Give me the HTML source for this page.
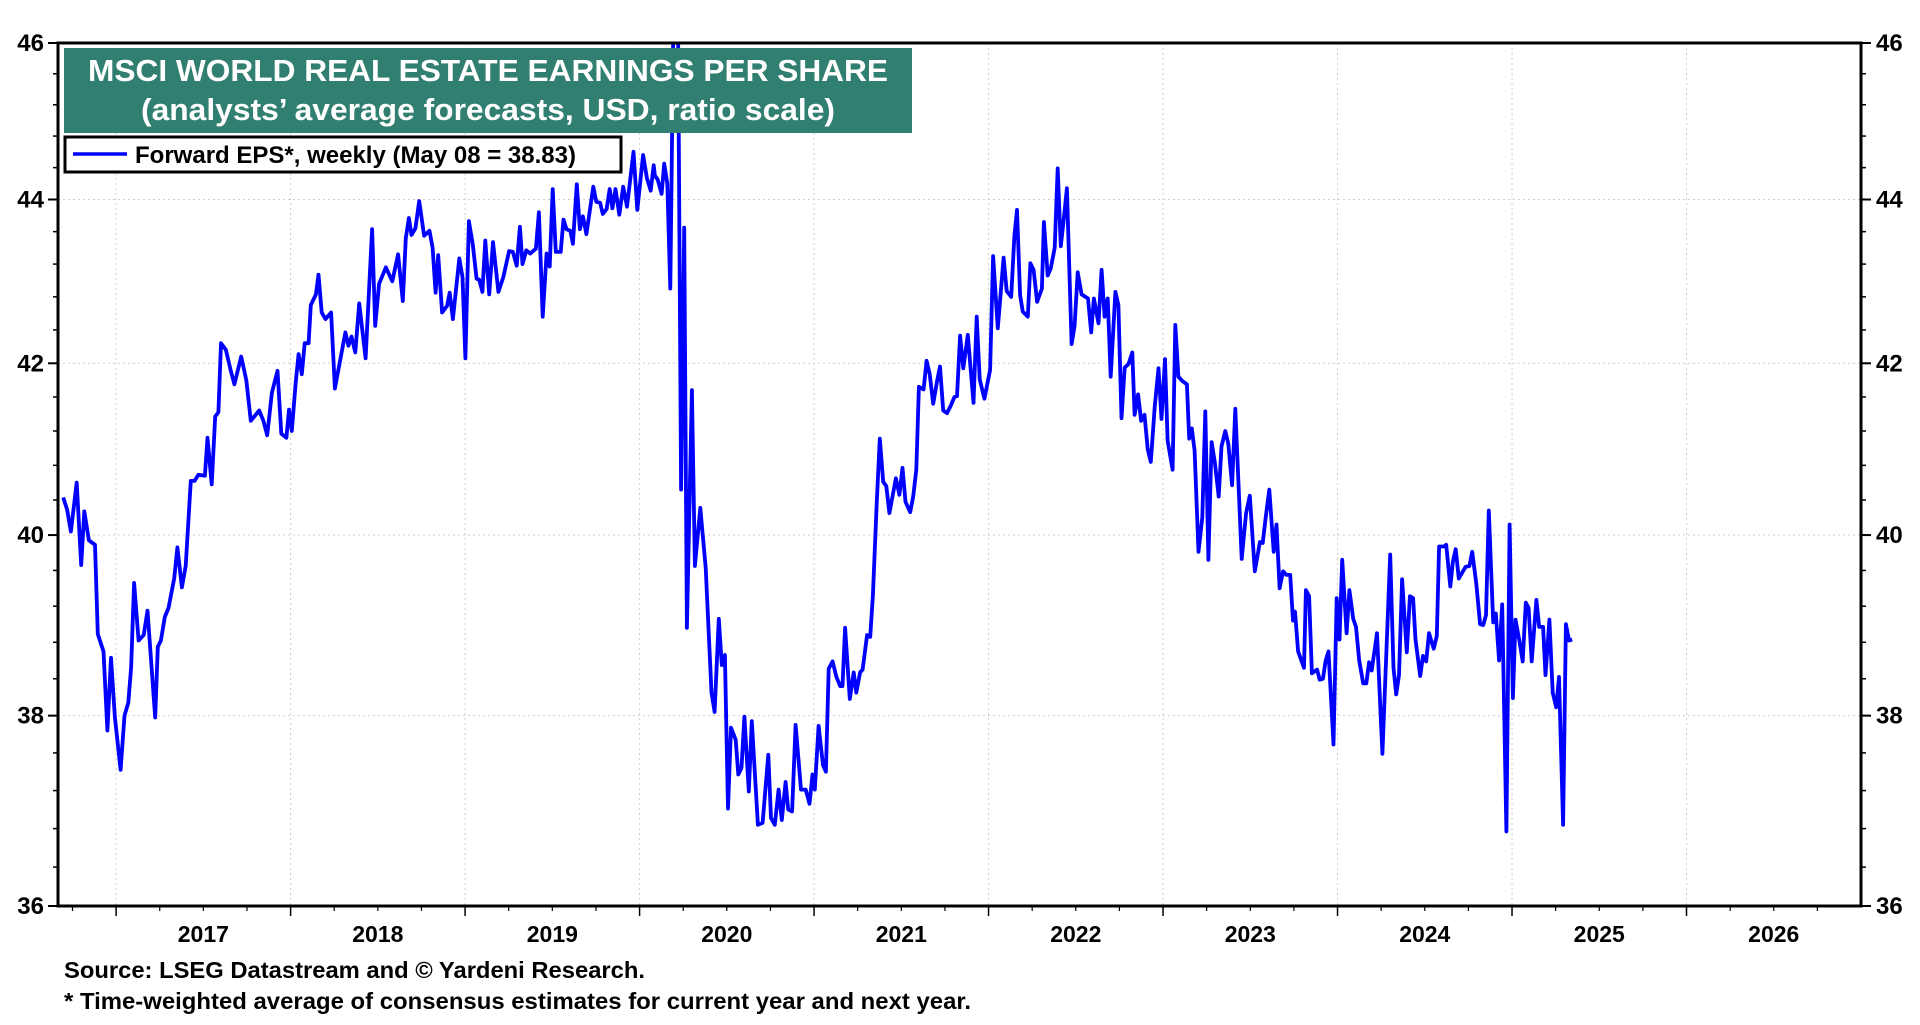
<!DOCTYPE html>
<html><head><meta charset="utf-8"><style>
html,body{margin:0;padding:0;background:#fff;}
body{width:1920px;height:1020px;overflow:hidden;font-family:"Liberation Sans",Arial,sans-serif;}
svg text{font-family:"Liberation Sans",Arial,sans-serif;font-weight:bold;}
</style></head><body>
<svg id="chart" width="1920" height="1020" viewBox="0 0 1920 1020" xmlns="http://www.w3.org/2000/svg">
<g id="grid"></g>
<g id="series"></g>
<g id="axes"></g>
<g>
<rect x="64" y="48" width="848" height="85" fill="#317f71"/>
<text x="488" y="81" text-anchor="middle" fill="#fff" font-size="31" textLength="800" lengthAdjust="spacingAndGlyphs">MSCI WORLD REAL ESTATE EARNINGS PER SHARE</text>
<text x="488" y="120" text-anchor="middle" fill="#fff" font-size="31" textLength="694" lengthAdjust="spacingAndGlyphs">(analysts’ average forecasts, USD, ratio scale)</text>
</g>
<g>
<rect x="65" y="137" width="556" height="35" fill="#fff" stroke="#000" stroke-width="3"/>
<line x1="73" y1="154" x2="127" y2="154" stroke="#0000ff" stroke-width="3.5"/>
<text x="135" y="163" font-size="24" fill="#000" textLength="441" lengthAdjust="spacingAndGlyphs">Forward EPS*, weekly (May 08 = 38.83)</text>
</g>
<text x="64" y="978" font-size="23.5" fill="#000" textLength="581" lengthAdjust="spacingAndGlyphs">Source: LSEG Datastream and © Yardeni Research.</text>
<text x="64" y="1009" font-size="23.5" fill="#000" textLength="907" lengthAdjust="spacingAndGlyphs">* Time-weighted average of consensus estimates for current year and next year.</text>
</svg>
<script>
const yTicks=[36,38,40,42,44,46];
const years=[2017,2018,2019,2020,2021,2022,2023,2024,2025,2026];
const dates=[2016.697,2016.719,2016.741,2016.774,2016.800,2016.818,2016.844,2016.879,2016.895,2016.928,2016.950,2016.971,2016.993,
2017.026,2017.048,2017.070,2017.086,2017.103,2017.129,2017.158,2017.180,2017.224,2017.239,2017.257,2017.279,2017.300,2017.333,2017.351,2017.377,2017.399,2017.428,2017.450,2017.471,2017.509,2017.524,2017.548,2017.568,2017.586,2017.601,2017.629,2017.656,2017.678,2017.717,2017.746,2017.772,2017.820,2017.844,2017.866,2017.893,2017.925,2017.947,2017.976,2017.991,
2018.007,2018.029,2018.046,2018.064,2018.081,2018.103,2018.116,2018.145,2018.160,2018.178,2018.200,2018.232,2018.254,2018.276,2018.314,2018.331,2018.349,2018.371,2018.393,2018.430,2018.467,2018.485,2018.507,2018.546,2018.583,2018.616,2018.643,2018.660,2018.678,2018.693,2018.715,2018.737,2018.765,2018.796,2018.814,2018.831,2018.846,2018.868,2018.897,2018.912,2018.930,2018.967,2018.985,
2019.002,2019.022,2019.044,2019.066,2019.081,2019.099,2019.116,2019.138,2019.160,2019.191,2019.219,2019.252,2019.274,2019.296,2019.314,2019.329,2019.351,2019.373,2019.406,2019.423,2019.445,2019.467,2019.485,2019.502,2019.520,2019.548,2019.564,2019.581,2019.603,2019.618,2019.640,2019.658,2019.675,2019.695,2019.735,2019.752,2019.774,2019.789,2019.811,2019.829,2019.844,2019.862,2019.884,2019.906,2019.928,2019.965,2019.987,
2020.020,2020.042,2020.064,2020.081,
2020.088,2020.104,2020.126,2020.141,2020.159,2020.176,2020.194,2020.220,2020.238,2020.256,2020.271,2020.300,2020.317,2020.348,2020.379,2020.412,2020.430,2020.454,2020.471,2020.489,2020.507,2020.524,2020.551,2020.566,2020.584,2020.601,2020.626,2020.643,2020.678,2020.705,2020.738,2020.753,2020.775,2020.797,2020.815,2020.837,2020.852,2020.874,2020.894,2020.925,2020.952,2020.974,2020.991,
2021.004,2021.026,2021.051,2021.068,2021.084,2021.106,2021.128,2021.150,2021.163,2021.178,2021.205,2021.227,2021.242,2021.264,2021.278,2021.304,2021.322,2021.337,2021.359,2021.377,2021.396,2021.414,2021.432,2021.469,2021.489,2021.507,2021.524,2021.551,2021.568,2021.586,2021.601,2021.628,2021.645,2021.663,2021.683,2021.705,2021.722,2021.740,2021.762,2021.784,2021.804,2021.819,2021.837,2021.855,2021.881,2021.914,2021.932,2021.949,2021.976,
2022.009,2022.026,2022.053,2022.086,2022.104,2022.130,2022.148,2022.163,2022.181,2022.196,2022.225,2022.240,2022.258,2022.278,2022.306,2022.317,2022.339,2022.357,2022.379,2022.396,2022.414,2022.432,2022.449,2022.476,2022.493,2022.511,2022.533,2022.570,2022.588,2022.604,2022.630,2022.648,2022.665,2022.683,2022.700,2022.727,2022.744,2022.762,2022.780,2022.802,2022.824,2022.837,2022.857,2022.874,2022.894,2022.912,2022.930,2022.952,2022.974,2022.991,
2023.011,2023.026,2023.055,2023.070,2023.088,2023.110,2023.137,2023.150,2023.165,2023.181,2023.203,2023.225,2023.242,2023.260,2023.278,2023.297,2023.319,2023.335,2023.357,2023.374,2023.396,2023.414,
2023.451,2023.476,2023.497,2023.526,2023.555,2023.571,2023.589,2023.609,2023.634,2023.650,2023.668,2023.688,2023.707,2023.729,2023.745,2023.756,2023.774,2023.808,2023.819,2023.837,2023.853,2023.883,2023.898,2023.916,2023.932,2023.948,2023.977,2023.995,
2024.011,2024.027,2024.052,2024.068,2024.090,2024.106,2024.124,2024.147,2024.165,2024.181,2024.196,2024.226,2024.257,2024.302,2024.321,2024.336,2024.352,2024.370,2024.397,2024.415,2024.433,2024.447,2024.474,2024.490,2024.508,2024.524,2024.551,2024.569,2024.582,2024.609,2024.623,2024.646,2024.661,2024.677,2024.695,2024.713,2024.734,2024.756,2024.772,2024.795,2024.817,2024.835,2024.851,2024.867,2024.892,2024.907,2024.926,2024.944,2024.968,2024.986,
2025.005,2025.020,2025.043,2025.061,2025.079,2025.095,2025.113,2025.140,2025.156,2025.178,2025.192,2025.214,2025.233,2025.253,2025.269,2025.293,2025.309,2025.327,2025.345];
const eps=[40.43,40.29,40.04,40.6,39.66,40.27,39.94,39.89,38.89,38.70,37.84,38.63,37.98,
37.42,38.0,38.14,38.52,39.46,38.82,38.88,39.15,37.98,38.75,38.82,39.08,39.18,39.51,39.86,39.41,39.65,40.62,40.62,40.69,40.68,41.12,40.58,41.37,41.42,42.24,42.16,41.92,41.75,42.08,41.80,41.32,41.44,41.32,41.15,41.65,41.91,41.17,41.12,41.45,
41.20,41.77,42.11,41.87,42.24,42.24,42.70,42.83,43.07,42.61,42.53,42.61,41.70,41.95,42.37,42.21,42.32,42.13,42.72,42.06,43.63,42.45,42.96,43.16,42.99,43.32,42.75,43.52,43.77,43.56,43.64,43.98,43.55,43.61,43.40,42.85,43.31,42.61,42.69,42.85,42.53,43.27,43.04,
42.06,43.73,43.44,43.02,43.01,42.86,43.49,42.83,43.47,42.86,43.04,43.36,43.35,43.18,43.66,43.20,43.37,43.33,43.39,43.84,42.56,43.33,43.17,44.13,43.35,43.35,43.75,43.63,43.61,43.45,44.19,43.63,43.79,43.57,44.16,43.97,43.96,43.82,43.88,44.13,43.89,44.13,43.81,44.16,43.91,44.60,43.87,
44.56,44.27,44.11,44.43,
44.30,44.25,44.07,44.45,44.20,42.90,46.3,46.3,40.52,43.65,38.96,41.68,39.65,40.31,39.63,38.25,38.04,39.06,38.55,38.66,37.01,37.87,37.74,37.37,37.44,37.99,37.19,37.94,36.84,36.86,37.58,36.91,36.84,37.21,36.89,37.29,37.00,36.98,37.90,37.21,37.21,37.06,37.37,
37.21,37.89,37.47,37.40,38.51,38.59,38.42,38.32,38.32,38.96,38.18,38.47,38.25,38.47,38.50,38.88,38.86,39.32,40.36,41.11,40.61,40.56,40.25,40.65,40.46,40.77,40.38,40.26,40.44,40.75,41.72,41.69,42.03,41.87,41.52,41.79,41.96,41.44,41.41,41.50,41.60,41.61,42.33,41.94,42.34,41.53,42.56,41.81,41.58,
41.92,43.30,42.42,43.28,42.87,42.80,43.55,43.87,42.82,42.62,42.56,43.21,43.13,42.74,42.90,43.72,43.06,43.15,43.40,44.39,43.42,43.77,44.14,42.23,42.45,43.10,42.83,42.78,42.37,42.78,42.48,43.13,42.56,42.78,41.84,42.86,42.70,41.35,41.95,41.99,42.13,41.39,41.63,41.32,41.39,40.99,40.84,41.48,41.94,41.34,
42.05,41.09,40.75,42.46,41.84,41.79,41.75,41.11,41.23,40.97,39.81,40.20,41.43,39.72,41.07,40.83,40.44,41.02,41.20,41.05,40.57,41.46,
39.73,40.25,40.45,39.59,39.92,39.91,40.21,40.52,39.81,40.12,39.40,39.59,39.55,39.55,39.04,39.14,38.70,38.52,39.38,39.31,38.46,38.50,38.39,38.40,38.60,38.70,37.69,39.29,
38.83,39.72,38.90,39.38,39.06,38.97,38.60,38.35,38.35,38.58,38.49,38.90,37.59,39.78,38.52,38.23,38.44,39.50,38.69,39.31,39.29,38.83,38.43,38.65,38.59,38.90,38.73,38.87,39.87,39.87,39.89,39.42,39.70,39.84,39.51,39.57,39.64,39.65,39.81,39.45,39.00,38.99,39.10,40.28,39.02,39.12,38.60,39.22,36.77,40.12,
38.19,39.05,38.81,38.59,39.24,39.18,38.59,39.27,38.97,38.97,38.44,39.05,38.25,38.09,38.42,36.84,39.00,38.82,38.83];

const L=58,R=1861,T=43,B=906;
const X0=2016.667,X1=2027;
const Y0=36,Y1=46;
const NS='http://www.w3.org/2000/svg';
function xs(d){return L+(d-X0)/(X1-X0)*(R-L);}
function ys(v){return B-(Math.log(v)-Math.log(Y0))/(Math.log(Y1)-Math.log(Y0))*(B-T);}
function mk(tag,attrs,parent){const e=document.createElementNS(NS,tag);for(const k in attrs)e.setAttribute(k,attrs[k]);parent.appendChild(e);return e;}
const grid=document.getElementById('grid'),axes=document.getElementById('axes'),series=document.getElementById('series');
const defs=mk('defs',{},document.getElementById('chart'));
const cp=mk('clipPath',{id:'plotclip'},defs);
mk('rect',{x:L,y:T,width:R-L,height:B-T},cp);
yTicks.forEach(v=>{
  const y=ys(v);
  if(v>Y0&&v<Y1){
    const g=mk('line',{x1:L,x2:R,y1:y,y2:y,stroke:'#cfcfcf','stroke-width':1,'stroke-dasharray':'2,3'},grid);
    
    
  }
  const t1=mk('text',{x:44,y:y+8,'text-anchor':'end','font-size':24,fill:'#000'},axes);
  t1.textContent=v;
  
  
  const t2=mk('text',{x:1876,y:y+8,'text-anchor':'start','font-size':24,fill:'#000'},axes);
  t2.textContent=v;
  
  
  mk('line',{x1:L-10,x2:L,y1:y,y2:y,stroke:'#000','stroke-width':2},axes);
  mk('line',{x1:R,x2:R+10,y1:y,y2:y,stroke:'#000','stroke-width':2},axes);
});
for(let v=36.4;v<46;v+=0.4){
  const y=ys(v);
  mk('line',{x1:L-5,x2:L,y1:y,y2:y,stroke:'#000','stroke-width':1.5},axes);
  mk('line',{x1:R,x2:R+5,y1:y,y2:y,stroke:'#000','stroke-width':1.5},axes);
}
years.forEach(yr=>{
  const x=xs(yr);
  const g=mk('line',{x1:x,x2:x,y1:T,y2:B,stroke:'#cfcfcf','stroke-width':1,'stroke-dasharray':'2,3'},grid);
  
  
  mk('line',{x1:x,x2:x,y1:B,y2:B+10,stroke:'#000','stroke-width':1.5},axes);
  const t=mk('text',{x:xs(yr+0.5),y:942,'text-anchor':'middle','font-size':23,fill:'#000'},axes);
  t.textContent=yr;
  
  
});
for(let q=2016.75;q<X1;q+=0.25){
  if(Math.abs(q-Math.round(q))<0.01)continue;
  const x=xs(q);
  mk('line',{x1:x,x2:x,y1:B,y2:B+5,stroke:'#000','stroke-width':1.2},axes);
}
let d='';
dates.forEach((dt,i)=>{d+=(i?'L':'M')+xs(dt).toFixed(1)+','+ys(eps[i]).toFixed(1);});
const p=mk('path',{d:d,fill:'none',stroke:'#0000ff','stroke-width':3.8,'stroke-linejoin':'round','clip-path':'url(#plotclip)'},series);


const fr=mk('rect',{x:L,y:T,width:R-L,height:B-T,fill:'none',stroke:'#000','stroke-width':3},axes);


</script>
</body></html>
